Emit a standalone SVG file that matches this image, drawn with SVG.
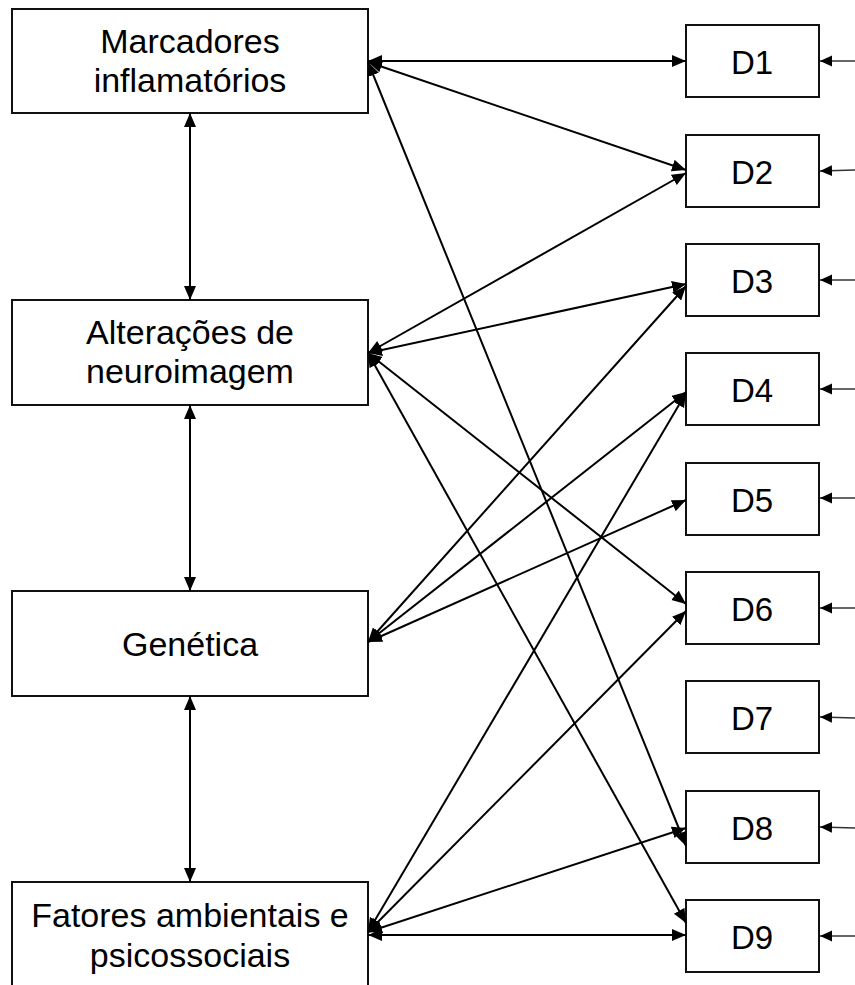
<svg xmlns="http://www.w3.org/2000/svg" width="855" height="985" viewBox="0 0 855 985">
  <style>
    .box { fill: #ffffff; stroke: #111111; stroke-width: 2; }
    .label { font-family: "Liberation Sans", Arial, sans-serif; font-size: 34px; fill: #000000; text-anchor: middle; }
    .dlabel { font-family: "Liberation Sans", Arial, sans-serif; font-size: 33px; fill: #000000; text-anchor: middle; }
    .link { stroke: #000000; stroke-width: 2; fill: none; marker-start: url(#head); marker-end: url(#head); }
    .input { stroke: #333333; stroke-width: 1.3; fill: none; marker-end: url(#headSmall); }
  </style>
  <defs>
    <marker id="head" markerUnits="userSpaceOnUse" markerWidth="15" markerHeight="13" refX="14" refY="6" orient="auto-start-reverse">
      <path d="M0,0 L14,6 L0,12 Z" fill="#000000"/>
    </marker>
    <marker id="headSmall" markerUnits="userSpaceOnUse" markerWidth="13" markerHeight="12" refX="12" refY="5.5" orient="auto">
      <path d="M0,0 L12,5.5 L0,11 Z" fill="#000000"/>
    </marker>
  </defs>

  <rect width="855" height="985" fill="#ffffff"/>

  <!-- factor nodes -->
  <g id="marcadores">
    <rect class="box" x="12" y="9" width="356" height="104"/>
    <text class="label" x="190" y="53">Marcadores</text>
    <text class="label" x="190" y="92">inflamatórios</text>
  </g>
  <g id="neuroimagem">
    <rect class="box" x="12" y="300" width="356" height="105"/>
    <text class="label" x="190" y="344">Alterações de</text>
    <text class="label" x="190" y="383">neuroimagem</text>
  </g>
  <g id="genetica">
    <rect class="box" x="12" y="591" width="356" height="105"/>
    <text class="label" x="190" y="656">Genética</text>
  </g>
  <g id="ambientais">
    <rect class="box" x="12" y="882" width="356" height="120"/>
    <text class="label" x="190" y="927">Fatores ambientais e</text>
    <text class="label" x="190" y="967">psicossociais</text>
  </g>

  <!-- outcome nodes -->
  <g id="d1"><rect class="box" x="686" y="25" width="133" height="72"/><text class="dlabel" x="752" y="74">D1</text></g>
  <g id="d2"><rect class="box" x="686" y="135" width="133" height="72"/><text class="dlabel" x="752" y="184">D2</text></g>
  <g id="d3"><rect class="box" x="686" y="244" width="133" height="72"/><text class="dlabel" x="752" y="293">D3</text></g>
  <g id="d4"><rect class="box" x="686" y="353" width="133" height="72"/><text class="dlabel" x="752" y="402">D4</text></g>
  <g id="d5"><rect class="box" x="686" y="463" width="133" height="72"/><text class="dlabel" x="752" y="512">D5</text></g>
  <g id="d6"><rect class="box" x="686" y="572" width="133" height="72"/><text class="dlabel" x="752" y="621">D6</text></g>
  <g id="d7"><rect class="box" x="686" y="681" width="133" height="72"/><text class="dlabel" x="752" y="730">D7</text></g>
  <g id="d8"><rect class="box" x="686" y="791" width="133" height="72"/><text class="dlabel" x="752" y="840">D8</text></g>
  <g id="d9"><rect class="box" x="686" y="900" width="133" height="72"/><text class="dlabel" x="752" y="949">D9</text></g>

  <!-- connectors -->
  <g id="connectors">
    <!-- between factors -->
    <line class="link" x1="190" y1="113" x2="190" y2="300"/>
    <line class="link" x1="190" y1="405" x2="190" y2="591"/>
    <line class="link" x1="190" y1="696" x2="190" y2="882"/>

    <!-- Marcadores inflamatórios -->
    <line class="link" x1="368" y1="61" x2="686" y2="61"/>
    <line class="link" x1="368" y1="62" x2="686" y2="170"/>
    <line class="link" x1="368" y1="62" x2="686" y2="846"/>

    <!-- Alterações de neuroimagem -->
    <line class="link" x1="368" y1="353" x2="686" y2="173"/>
    <line class="link" x1="368" y1="353" x2="686" y2="284"/>
    <line class="link" x1="368" y1="353" x2="686" y2="604"/>
    <line class="link" x1="368" y1="353" x2="686" y2="923"/>

    <!-- Genética -->
    <line class="link" x1="368" y1="642" x2="686" y2="286"/>
    <line class="link" x1="368" y1="642" x2="686" y2="392"/>
    <line class="link" x1="368" y1="642" x2="686" y2="500"/>

    <!-- Fatores ambientais e psicossociais -->
    <line class="link" x1="368" y1="932" x2="686" y2="393"/>
    <line class="link" x1="368" y1="932" x2="686" y2="611"/>
    <line class="link" x1="368" y1="932" x2="686" y2="828"/>
    <line class="link" x1="368" y1="935" x2="686" y2="935"/>

    <!-- inputs from the right edge -->
    <line class="input" x1="855" y1="61" x2="820" y2="61"/>
    <line class="input" x1="855" y1="170" x2="820" y2="171"/>
    <line class="input" x1="855" y1="280" x2="820" y2="280"/>
    <line class="input" x1="855" y1="389" x2="820" y2="389"/>
    <line class="input" x1="855" y1="498" x2="820" y2="498"/>
    <line class="input" x1="855" y1="608" x2="820" y2="608"/>
    <line class="input" x1="855" y1="718" x2="820" y2="717"/>
    <line class="input" x1="855" y1="828" x2="820" y2="827"/>
    <line class="input" x1="855" y1="936" x2="820" y2="936"/>
  </g>
</svg>
